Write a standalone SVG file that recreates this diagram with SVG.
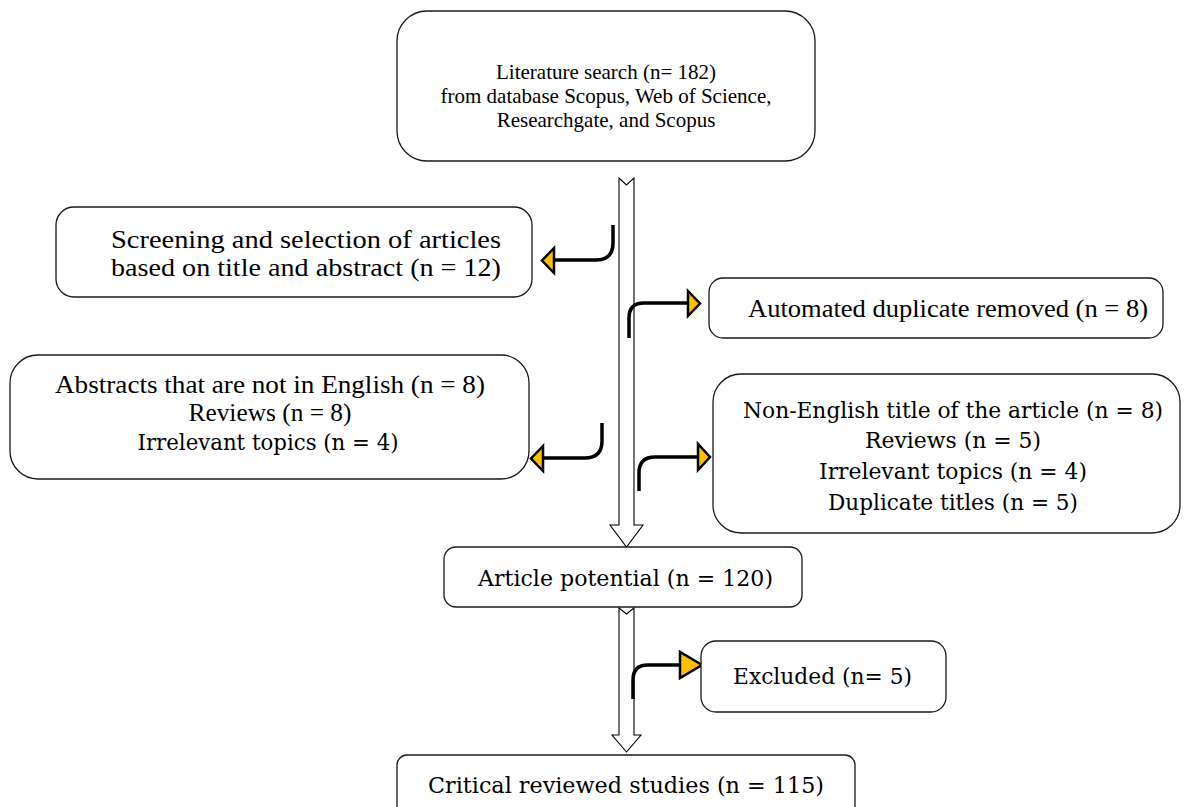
<svg xmlns="http://www.w3.org/2000/svg" width="1193" height="807" viewBox="0 0 1193 807">
<style>
.box{fill:#fff;stroke:#1a1a1a;stroke-width:1.3}
.tm{font-family:"Liberation Serif","Times New Roman",serif;fill:#000;text-anchor:middle}
.cb{font-family:"DejaVu Serif","Liberation Serif",serif;fill:#000;text-anchor:middle}
.hollow{fill:#fff;stroke:#000;stroke-width:1.1;stroke-linejoin:miter}
.bend{fill:none;stroke:#000;stroke-width:3.5}
.tri{fill:#FFC000;stroke:#000;stroke-width:2.5;stroke-linejoin:miter}
</style>
<rect width="1193" height="807" fill="#fff"/>
<g id="connectors">
<polygon class="hollow" points="619,178 626.5,185 634,178 634,525 643,525 626.5,547 610,525 619,525"/>
<polygon class="hollow" points="619,608 626.5,614 634,608 634,735 641,735 626.5,752 612,735 619,735"/>
<path class="bend" d="M613,225 V243 Q613,260 596,260 H554"/>
<polygon class="tri" points="554,248 554,273 542,260.5"/>
<path class="bend" d="M629,338 V318 Q629,303 644,303 H688"/>
<polygon class="tri" points="688,291 688,316 700,303.5"/>
<path class="bend" d="M602,423 V441 Q602,458 585,458 H543"/>
<polygon class="tri" points="543,446 543,471 531,458.5"/>
<path class="bend" d="M639,491 V473 Q639,457 655,457 H698"/>
<polygon class="tri" points="698,444 698,470 710,457"/>
<path class="bend" d="M633,699 V680 Q633,665 648,665 H680"/>
<polygon class="tri" points="680,652 680,678 702,665"/>
</g>
<g id="n1">
<rect class="box" x="397" y="11" width="418" height="150" rx="30"/>
<text class="tm" font-size="21" x="606" y="79">Literature search (n= 182)</text>
<text class="tm" font-size="21" x="606" y="103">from database Scopus, Web of Science,</text>
<text class="tm" font-size="21" x="606" y="127">Researchgate, and Scopus</text>
</g>
<g id="n2">
<rect class="box" x="56" y="207" width="476" height="90" rx="18"/>
<text class="tm" font-size="25" x="306" y="248" textLength="390" lengthAdjust="spacingAndGlyphs">Screening and selection of articles</text>
<text class="tm" font-size="25" x="306" y="276" textLength="390" lengthAdjust="spacingAndGlyphs">based on title and abstract (n = 12)</text>
</g>
<g id="n3">
<rect class="box" x="709" y="278" width="454" height="60" rx="14"/>
<text class="tm" font-size="25" x="948" y="317" textLength="400" lengthAdjust="spacingAndGlyphs">Automated duplicate removed (n = 8)</text>
</g>
<g id="n4">
<rect class="box" x="10" y="355" width="519" height="124" rx="28"/>
<text class="tm" font-size="25" x="270" y="393" textLength="430" lengthAdjust="spacingAndGlyphs">Abstracts that are not in English (n = 8)</text>
<text class="tm" font-size="25" x="270" y="421" textLength="163" lengthAdjust="spacingAndGlyphs">Reviews (n = 8)</text>
<text class="cb" font-size="22" x="268" y="450" textLength="261" lengthAdjust="spacingAndGlyphs">Irrelevant topics (n = 4)</text>
</g>
<g id="n5">
<rect class="box" x="713" y="374" width="467" height="159" rx="28"/>
<text class="cb" font-size="22" x="953" y="418" textLength="420" lengthAdjust="spacingAndGlyphs">Non-English title of the article (n = 8)</text>
<text class="cb" font-size="22" x="953" y="448" textLength="176" lengthAdjust="spacingAndGlyphs">Reviews (n = 5)</text>
<text class="cb" font-size="22" x="953" y="479" textLength="268" lengthAdjust="spacingAndGlyphs">Irrelevant topics (n = 4)</text>
<text class="cb" font-size="22" x="953" y="510" textLength="250" lengthAdjust="spacingAndGlyphs">Duplicate titles (n = 5)</text>
</g>
<g id="n6">
<rect class="box" x="444" y="547" width="358" height="60" rx="12"/>
<text class="cb" font-size="22" x="625.5" y="586" textLength="295" lengthAdjust="spacingAndGlyphs">Article potential (n = 120)</text>
</g>
<g id="n7">
<rect class="box" x="701" y="641" width="245" height="71" rx="15"/>
<text class="cb" font-size="22" x="822.5" y="684" textLength="179" lengthAdjust="spacingAndGlyphs">Excluded (n= 5)</text>
</g>
<g id="n8">
<rect class="box" x="397" y="755" width="458" height="70" rx="10"/>
<text class="cb" font-size="22" x="626" y="793" textLength="396" lengthAdjust="spacingAndGlyphs">Critical reviewed studies (n = 115)</text>
</g>
</svg>
